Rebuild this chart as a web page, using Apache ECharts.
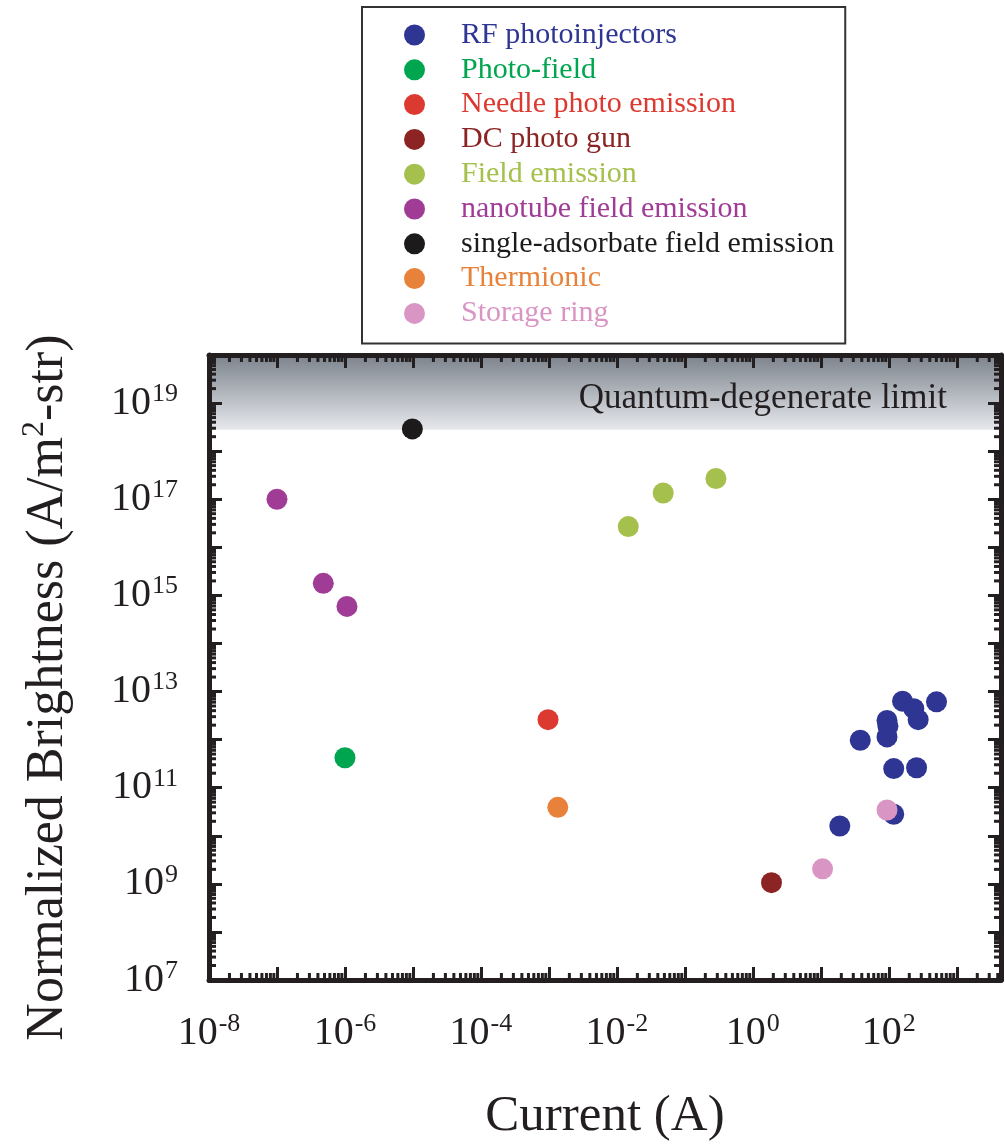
<!DOCTYPE html>
<html>
<head>
<meta charset="utf-8">
<script src="https://cdn.jsdelivr.net/npm/echarts@6/dist/echarts.min.js"></script>
<style>html,body{margin:0;padding:0;background:#fff}#c{width:1005px;height:1147px}</style>
</head>
<body>
<div id="c"></div>
<script>
// ---- data (current in A, normalized brightness in A/m^2-str) ----
const seriesNames = ['RF photoinjectors','Photo-field','Needle photo emission','DC photo gun','Field emission','nanotube field emission','single-adsorbate field emission','Thermionic','Storage ring'];
const seriesColors = ['#2f3593','#00a550','#dc3a30','#8c2424','#a5c04c','#a03c96','#1c1a1b','#e8823a','#d995c3'];
const rfCurrent = [19, 118, 118, 256, 38, 94, 97, 94, 159, 233, 270, 503];
const rfBright = [1.6e10, 2.8e10, 2.5e11, 2.6e11, 9.7e11, 1.14e12, 1.9e12, 2.5e12, 6.3e12, 4.4e12, 2.6e12, 6.1e12];
const photoFieldCurrent = [1e-6];
const photoFieldBright = [4.2e11];
const needleCurrent = [9.7e-4];
const needleBright = [2.6e12];
const dcCurrent = [1.88];
const dcBright = [1.06e9];
const fieldCurrent = [0.0147, 0.048, 0.286];
const fieldBright = [2.7e16, 1.35e17, 2.7e17];
const nanoCurrent = [1e-7, 4.8e-7, 1.07e-6];
const nanoBright = [1e17, 1.78e15, 5.9e14];
const singleCurrent = [9.8e-6];
const singleBright = [2.9e18];
const thermCurrent = [1.35e-3];
const thermBright = [3.9e10];
const storageCurrent = [10.6, 94];
const storageBright = [2.05e9, 3.44e10];
const quantumLimit = 2.8e18;
// axis ranges (decades)
const xDecadeMin = -8, xDecadeMax = 3.65;
const yDecadeMin = 7, yDecadeMax = 20;
const minorMultipliers = [2,3,4,5,6,7,8,9];

const currents = [rfCurrent, photoFieldCurrent, needleCurrent, dcCurrent, fieldCurrent, nanoCurrent, singleCurrent, thermCurrent, storageCurrent];
const brights = [rfBright, photoFieldBright, needleBright, dcBright, fieldBright, nanoBright, singleBright, thermBright, storageBright];

const FONT = '"Liberation Serif","Times New Roman",serif';
const INK = '#231f20';

function pairs(xs, ys){ return xs.map((x,i)=>[Math.log10(x), Math.log10(ys[i])]); }
function minorList(lo, hi){
  const out = [];
  for (let n = Math.floor(lo); n < Math.ceil(hi); n++) {
    minorMultipliers.forEach(k => { const v = n + Math.log10(k); if (v > lo && v < hi) out.push(v); });
  }
  return out;
}

const chart = echarts.init(document.getElementById('c'), null, {renderer:'canvas'});

const richLabel = {
  b: {fontFamily: FONT, fontSize: 40, color: INK},
  s: {fontFamily: FONT, fontSize: 26, color: INK, padding: [0,0,18,1]}
};
function powLabel(parity){
  return function(v){
    const r = Math.round(v);
    if (Math.abs(v - r) > 1e-6) return '';
    if (Math.abs(r % 2) !== parity) return '';
    return '{b|10}{s|' + r + '}';
  };
}

const axisCommon = {
  type: 'value',
  z: 6,
  splitLine: {show: false},
  axisLine: {show: true, onZero: false, lineStyle: {color: INK, width: 5}},
  axisTick: {show: true, inside: true, length: 13, lineStyle: {color: INK, width: 3}},
  interval: 1
};

const scatterSeries = seriesNames.map((name, i) => ({
  name: name,
  type: 'scatter',
  symbol: 'circle',
  symbolSize: 21,
  z: 4,
  itemStyle: {color: seriesColors[i], opacity: 1},
  data: pairs(currents[i], brights[i])
}));

const TICK_LEN = 7;
const tickStyle = {stroke: INK, lineWidth: 3};

const option = {
  animation: false,
  backgroundColor: '#fff',
  grid: {left: 209, right: 4, top: 355, bottom: 164, containLabel: false},
  legend: {
    orient: 'vertical',
    left: 362, top: 7,
    padding: [13, 11, 15, 42],
    itemGap: 4.8,
    itemWidth: 21, itemHeight: 21,
    icon: 'circle',
    borderColor: '#333', borderWidth: 2,
    backgroundColor: '#fff',
    selectedMode: false,
    textStyle: {fontFamily: FONT, fontSize: 30, lineHeight: 30, padding: [0, 0, 0, 31]},
    data: seriesNames.map((n, i) => ({name: n, textStyle: {color: seriesColors[i]}}))
  },
  xAxis: [
    Object.assign({}, axisCommon, {
      position: 'bottom', min: xDecadeMin, max: xDecadeMax,
      name: 'Current (A)', nameLocation: 'middle', nameGap: 111,
      nameTextStyle: {fontFamily: FONT, fontSize: 51, color: INK},
      axisLabel: {show: true, margin: 31, formatter: powLabel(0), rich: richLabel}
    }),
    Object.assign({}, axisCommon, {
      position: 'top', min: xDecadeMin, max: xDecadeMax,
      axisLabel: {show: false}
    })
  ],
  yAxis: [
    Object.assign({}, axisCommon, {
      position: 'left', min: yDecadeMin, max: yDecadeMax,
      name: 'Normalized Brightness (A/m{sup|2}-str)', nameLocation: 'middle', nameGap: 132,
      nameTextStyle: {fontFamily: FONT, fontSize: 52, color: INK, padding: [0, 40, 0, 0],
        rich: {sup: {fontFamily: FONT, fontSize: 32, color: INK, padding: [0,0,26,0]}}},
      axisLabel: {show: true, margin: 31, formatter: powLabel(1), rich: richLabel}
    }),
    Object.assign({}, axisCommon, {
      position: 'right', min: yDecadeMin, max: yDecadeMax,
      axisLabel: {show: false}
    })
  ],
  series: [
    {
      name: 'quantum-limit', type: 'line', data: [], silent: true,
      markArea: {
        silent: true,
        itemStyle: {
          color: {type: 'linear', x: 0, y: 0, x2: 0, y2: 1, colorStops: [
            {offset: 0, color: 'rgba(112,120,130,0.92)'},
            {offset: 1, color: 'rgba(228,230,235,0.92)'}
          ]}
        },
        label: {show: true, position: 'insideRight', distance: 0, offset: [-54, 6],
          fontFamily: FONT, fontSize: 35, color: INK, formatter: 'Quantum-degenerate limit'},
        data: [[{yAxis: Math.log10(quantumLimit)}, {yAxis: yDecadeMax}]]
      }
    },
    {
      name: 'x-minor', type: 'custom', z: 7, silent: true,
      data: minorList(xDecadeMin, xDecadeMax).map(v => [v, yDecadeMin]),
      renderItem: function(params, api){
        const v = api.value(0);
        const pb = api.coord([v, yDecadeMin]);
        const pt = api.coord([v, yDecadeMax]);
        return {type: 'group', children: [
          {type: 'line', shape: {x1: pb[0], y1: pb[1], x2: pb[0], y2: pb[1] - TICK_LEN}, style: tickStyle},
          {type: 'line', shape: {x1: pt[0], y1: pt[1], x2: pt[0], y2: pt[1] + TICK_LEN}, style: tickStyle}
        ]};
      }
    },
    {
      name: 'y-minor', type: 'custom', z: 7, silent: true,
      data: minorList(yDecadeMin, yDecadeMax).map(v => [xDecadeMin, v]),
      renderItem: function(params, api){
        const v = api.value(1);
        const pl = api.coord([xDecadeMin, v]);
        const pr = api.coord([xDecadeMax, v]);
        return {type: 'group', children: [
          {type: 'line', shape: {x1: pl[0], y1: pl[1], x2: pl[0] + TICK_LEN, y2: pl[1]}, style: tickStyle},
          {type: 'line', shape: {x1: pr[0], y1: pr[1], x2: pr[0] - TICK_LEN, y2: pr[1]}, style: tickStyle}
        ]};
      }
    }
  ].concat(scatterSeries)
};
chart.setOption(option);
</script>
</body>
</html>
